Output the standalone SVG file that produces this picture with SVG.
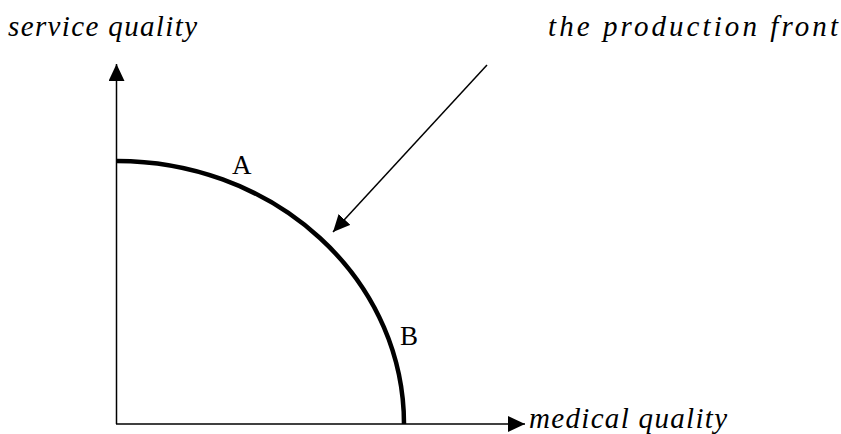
<svg xmlns="http://www.w3.org/2000/svg" width="841" height="434" viewBox="0 0 841 434">
<defs>
<style>
.lbl{font-family:"Liberation Serif","Times New Roman",serif;font-style:italic;font-size:29px;fill:#000}
.pt{font-family:"Liberation Serif","Times New Roman",serif;font-size:27px;fill:#000}
.ax{stroke:#000;stroke-width:1.5;fill:none}
</style>
<marker id="ahbig" viewBox="0 0 10 10" refX="10" refY="5" markerWidth="17" markerHeight="16" markerUnits="userSpaceOnUse" orient="auto" preserveAspectRatio="none">
<path d="M0,0 L10,5 L0,10 Z" fill="#000"/>
</marker>
</defs>
<g id="connectors">
<line class="ax" x1="116.5" y1="424" x2="116.5" y2="64" marker-end="url(#ahbig)"/>
<line class="ax" x1="116" y1="424" x2="525" y2="424" marker-end="url(#ahbig)"/>
<line class="ax" x1="487" y1="65" x2="333" y2="232" marker-end="url(#ahbig)"/>
</g>
<g id="front">
<path d="M117,161 A287,263 0 0 1 404,424" fill="none" stroke="#000" stroke-width="4.5"/>
</g>
<g id="labels">
<text class="lbl" x="8" y="36" textLength="189" lengthAdjust="spacing">service quality</text>
<text class="lbl" x="548" y="36" textLength="290" lengthAdjust="spacing">the production front</text>
<text class="lbl" x="529" y="428" textLength="198" lengthAdjust="spacing">medical quality</text>
<text class="pt" x="232" y="174">A</text>
<text class="pt" x="400" y="345">B</text>
</g>
</svg>
